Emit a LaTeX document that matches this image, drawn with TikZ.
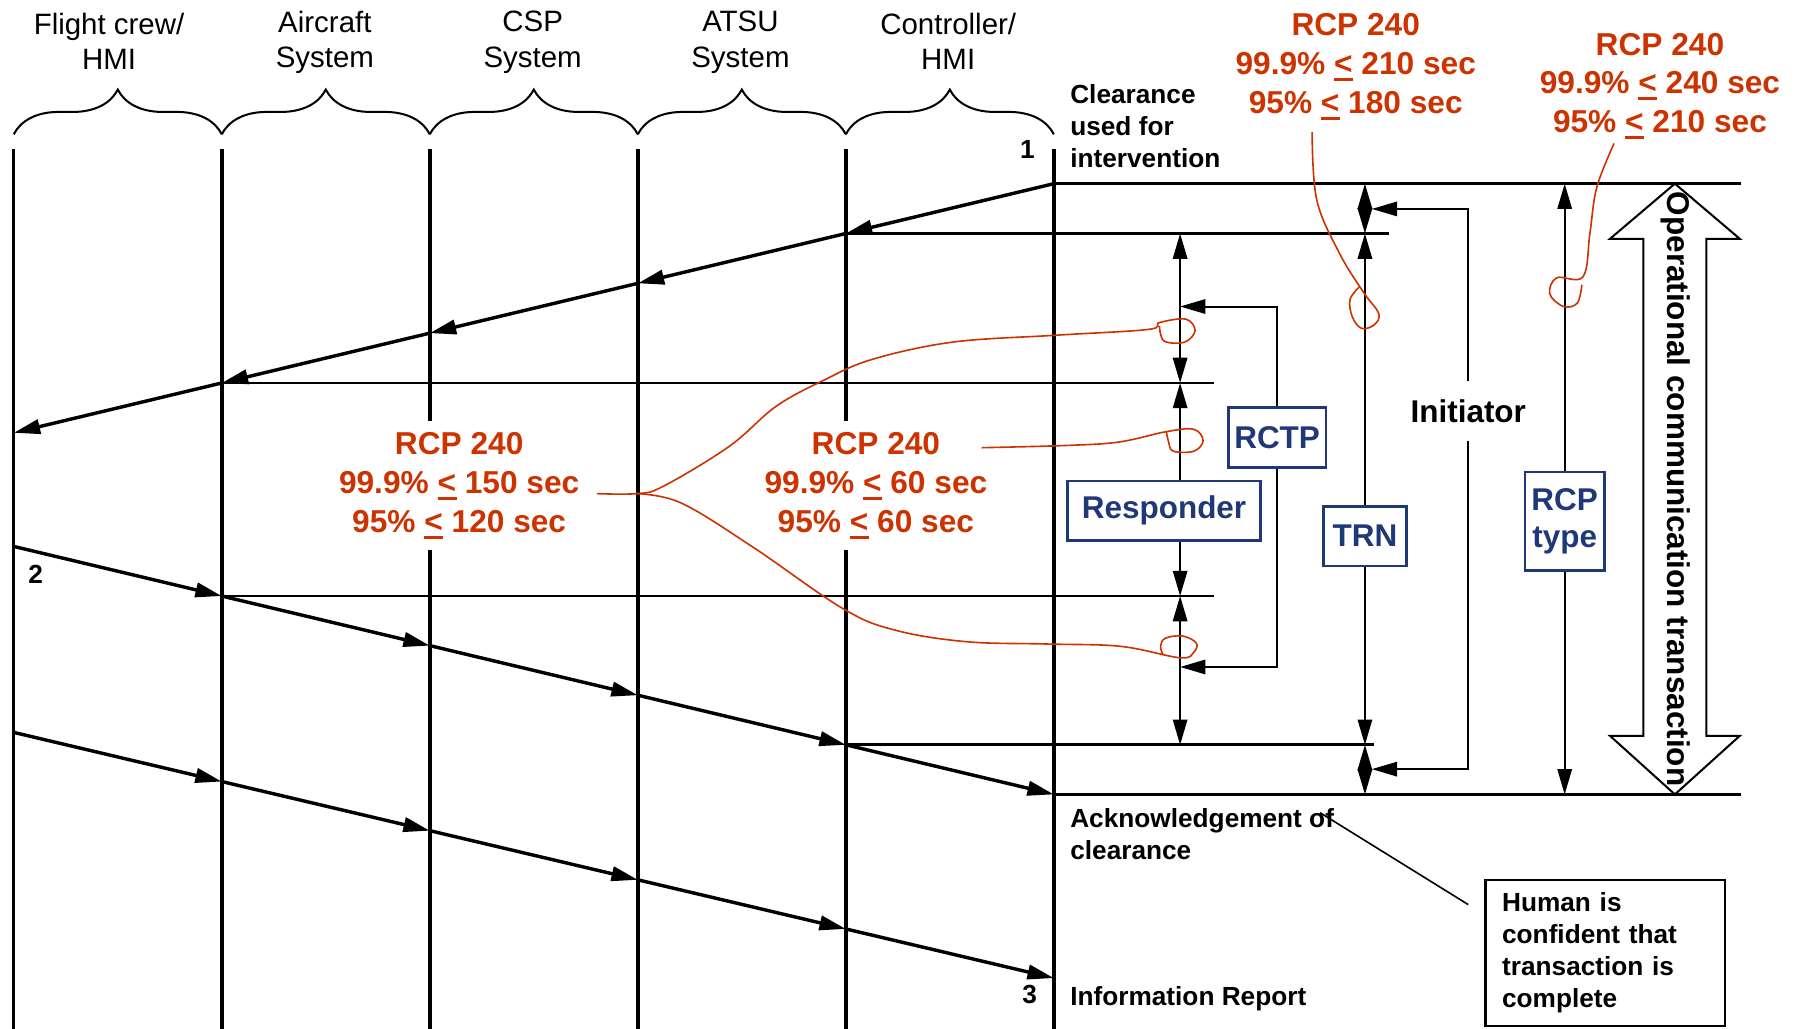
\documentclass[tikz,border=0pt]{standalone}
\usepackage{fontspec}
\setmainfont{Liberation Sans}
\usetikzlibrary{arrows.meta, decorations.pathreplacing}

\definecolor{rcpred}{RGB}{204,51,0}
\definecolor{boxblue}{RGB}{32,56,120}

% underlined "less than" as printed in the chart
\newcommand{\uleq}{\rlap{\rule[-0.2em]{0.6em}{0.09em}}<}

\tikzset{
  lane/.style={line width=1.7pt},
  lanebrace/.style={decorate, decoration={brace, amplitude=0.78cm}, line width=1pt},
  msg/.style={line width=1.7pt, -{Triangle[length=0.46cm, width=0.25cm]}},
  hline/.style={line width=1.3pt},
  twoway/.style={line width=1pt, {Triangle[length=0.44cm, width=0.25cm]}-{Triangle[length=0.44cm, width=0.25cm]}},
  feed/.style={line width=1pt, -{Triangle[length=0.44cm, width=0.25cm]}},
  hdr/.style={align=center, font=\fontsize{14.6}{17.6}\selectfont},
  lbl/.style={align=left, inner sep=0pt, font=\fontsize{13}{15.9}\selectfont\bfseries},
  rcp/.style={align=center, text=rcpred, fill=white, inner sep=0.2cm, font=\fontsize{15.7}{19.3}\selectfont\bfseries},
  bluebox/.style={draw=boxblue, text=boxblue, line width=1.3pt, fill=white, align=center,
    minimum height=1.04cm, inner sep=0.08cm, font=\fontsize{15.6}{18.5}\selectfont\bfseries},
  notebox/.style={draw, line width=1pt, align=left, text width=3.6cm, inner xsep=0.29cm,
    minimum width=4.18cm, minimum height=2.54cm, font=\fontsize{13}{15.9}\selectfont\bfseries},
  lasso/.style={draw=rcpred, line width=0.8pt}
}

\begin{document}
\begin{tikzpicture}[x=0.02cm, y=-0.02cm]
    \useasboundingbox (0,0) rectangle (1568,896);

    % lane points
    \foreach \i in {0,...,5} {
        \pgfmathsetmacro{\lx}{12+181.2*\i}
        \coordinate (top\i) at (\lx,130);
        \coordinate (bot\i) at (\lx,896);
        \coordinate (br\i) at (\lx,117);
        \coordinate (m1-\i) at (\lx,377-43.4*\i);
        \coordinate (m2-\i) at (\lx,476+43.2*\i);
        \coordinate (m3-\i) at (\lx,638+42.8*\i);
    }
    \coordinate (rx) at (1028,0);
    \coordinate (tx) at (1189,0);
    \coordinate (px) at (1363,0);

    % headers
    \node[hdr] (crew) at (95,36) {Flight crew/\\HMI};
    \node[hdr] (acsys) at (283,37) {Aircraft\\System};
    \node[hdr] (cspsys) at (464,37) {CSP\\System};
    \node[hdr] (atsusys) at (645,37) {ATSU\\System};
    \node[hdr] (ctrl) at (826,36) {Controller/\\HMI};
    \foreach \i [evaluate=\i as \j using int(\i+1)] in {0,...,4}
        \draw[lanebrace] (br\i) -- (br\j);

    % lanes
    \foreach \i in {0,...,5}
        \draw[lane] (top\i) -- (bot\i);

    % messages
    \foreach \i [evaluate=\i as \j using int(\i-1)] in {5,...,1}
        \draw[msg] (m1-\i) -- (m1-\j);
    \foreach \i [evaluate=\i as \j using int(\i+1)] in {0,...,4} {
        \draw[msg] (m2-\i) -- (m2-\j);
        \draw[msg] (m3-\i) -- (m3-\j);
    }
    \node[lbl] (n1) at (895,130) {1};
    \node[lbl] (n2) at (31,500) {2};
    \node[lbl] (n3) at (897,866) {3};

    % time marks
    \draw[lane] (m1-5) -- ++(599,0);
    \draw[hline] (m1-4) -- ++(473,0);
    \draw[hline] (m1-1) -- ++(864,0);
    \draw[hline] (m2-1) -- ++(864,0);
    \draw[hline] (m2-4) -- ++(460,0);
    \draw[lane] (m2-5) -- ++(599,0);

    % RCP figures
    \node[rcp] (rcpA) at (400,423) {RCP 240\\99.9\% \uleq{} 150 sec\\95\% \uleq{} 120 sec};
    \node[rcp] (rcpB) at (763,423) {RCP 240\\99.9\% \uleq{} 60 sec\\95\% \uleq{} 60 sec};
    \node[rcp, fill=none] (rcpC) at (1181,58) {RCP 240\\99.9\% \uleq{} 210 sec\\95\% \uleq{} 180 sec};
    \node[rcp, fill=none] (rcpD) at (1446,75) {RCP 240\\99.9\% \uleq{} 240 sec\\95\% \uleq{} 210 sec};

    % event texts
    \node[lbl, anchor=base west] (clr) at (932,146) {Clearance\\used for\\intervention};
    \node[lbl, anchor=base west] (ack) at (932,749) {Acknowledgement of\\clearance};
    \node[lbl, anchor=base west] (info) at (932,876) {Information Report};

    % responder / TRN / RCP type spans
    \draw[twoway] (m1-4 -| rx) -- (m1-1 -| rx);
    \draw[twoway] (m1-1 -| rx) -- (m2-1 -| rx);
    \draw[twoway] (m2-1 -| rx) -- (m2-4 -| rx);
    \draw[twoway] (m1-5 -| tx) -- (m1-4 -| tx);
    \draw[twoway] (m1-4 -| tx) -- (m2-4 -| tx);
    \draw[twoway] (m2-4 -| tx) -- (m2-5 -| tx);
    \draw[twoway] (m1-5 -| px) -- (m2-5 -| px);

    \node[bluebox, minimum width=3.36cm] (resp) at (1014,445) {Responder};
    \node[bluebox, minimum width=1.7cm] (rctp) at (1112.5,381) {RCTP};
    \node[bluebox, minimum width=1.44cm] (trn) at (1189,467) {TRN};
    \node[bluebox, minimum width=1.38cm, minimum height=1.72cm] (rcptype) at (1363,454) {RCP\\type};

    \coordinate (rctpin) at (1028,267);
    \coordinate (rctpout) at (1028,581);
    \draw[feed] (rctp.north) |- (rctpin);
    \draw[feed] (rctp.south) |- (rctpout);

    \node[minimum height=1.02cm, font=\fontsize{15.6}{18.5}\selectfont\bfseries] (init) at (1279,358) {Initiator};
    \coordinate (initin) at (1195,182);
    \coordinate (initout) at (1195,670);
    \draw[feed] (init.north) |- (initin);
    \draw[feed] (init.south) |- (initout);

    % whole transaction
    \draw[line width=1pt] (1459,160) -- (1515.5,208) -- (1486.5,208) -- (1486.5,641)
        -- (1515.5,641) -- (1459,692) -- (1402.5,641) -- (1431.5,641)
        -- (1431.5,208) -- (1402.5,208) -- cycle;
    \node[rotate=-90, inner sep=0pt, font=\fontsize{15.6}{18.5}\selectfont\bfseries] (opct) at (1460,426)
        {Operational communication transaction};

    % human note
    \node[notebox] (human) at (1398.5,830) {Human is\\confident that\\transaction is\\complete};
    \coordinate (ackof) at (1150,708);
    \coordinate (humanlead) at (1279,788);
    \draw[line width=0.8pt] (ackof) -- (humanlead);

    % red leaders
    \draw[lasso] plot[smooth, tension=0.6] coordinates {(520,430) (554,430) (577,424) (635,389)
        (676,354) (718,331) (760,313) (830,298) (920,292) (1000,287) (1010,281) (1033,278)
        (1041,288) (1032,298) (1014,297) (1010,284)};
    \draw[lasso] plot[smooth, tension=0.6] coordinates {(554,430) (593,438) (655,476) (734,530)
        (780,549) (842,559) (912,561) (976,563) (1028,573) (1040,568) (1042,560) (1030,554)
        (1015,556) (1011,563) (1013,570)};
    \draw[lasso] plot[smooth, tension=0.6] coordinates {(855,390) (930,388) (975,385) (1016,376)
        (1040,374) (1048,384) (1040,393) (1022,393) (1018,385) (1016,376)};
    \draw[lasso] plot[smooth, tension=0.6] coordinates {(1143,115) (1147,174) (1167,221) (1188,255)
        (1201,273) (1197,283) (1186,286) (1178,276) (1176,261) (1184,250)};
    \draw[lasso] plot[smooth, tension=0.6] coordinates {(1406,125) (1391,163) (1385,203) (1379,241)
        (1356,242) (1350,256) (1362,267) (1374,264) (1378,248)};
\end{tikzpicture}
\end{document}
